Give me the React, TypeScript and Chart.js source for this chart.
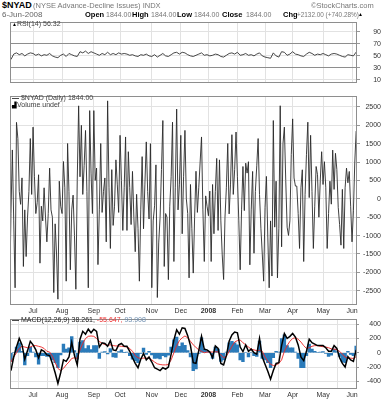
import React, { useEffect, useRef } from "react";
import { Chart, registerables } from "chart.js";
Chart.register(...registerables);

const FONT = "'Liberation Sans', Arial, sans-serif";

// trading-day index of the first session of each month (day 0 = 7-Jun-2007)
const monthTickIdx = [17, 38, 61, 80, 103, 124, 144, 165, 185, 205, 227, 248];
const monthLabels = ["Jul", "Aug", "Sep", "Oct", "Nov", "Dec", "2008", "Feb", "Mar", "Apr", "May", "Jun"];

const mainTicks = [-2500, -2000, -1500, -1000, -500, 0, 500, 1000, 1500, 2000, 2500];
const rsiTicks = [10, 30, 50, 70, 90];
const macdTicks = [-400, -200, 0, 200, 400];

// $NYAD daily values (one per trading day)
const nyadValues = [
  -2750, -400, 1330, -600, -2420, 2080, 1640, 200, -150, 570,
  -1840, -300, -1570, -500, 200, 1640, 120, 1950, 600, -400,
  -100, 655, -1750, -200, -600, 300, -500, -1170, -400, 835,
  -300, -500, -2550, -680, -1500, -2730, 480, -200, -400, 1015,
  300, -2240, 1505, 200, -1930, -300, 100, -1000, -2460, 500,
  2530, 600, 2000, 120, 900, 1860, 200, -2420, 2400, 700,
  -400, 2400, 500, 837, -1790, -300, 1505, -370, 200, 568,
  -1170, 2665, 300, -1350, 794, -723, -200, 1060, 400, -370,
  1728, 500, -860, 300, 1683, -860, 1282, 300, -700, 746,
  -500, -1438, 123, -800, -2240, -300, 1148, -815, 400, 1549,
  200, -548, 1500, -2418, -600, -190, 924, -2684, -1200, -500,
  800, 2130, -1840, -400, -500, -2198, -200, 600, 2085, -1705,
  300, 2442, -300, 400, 1728, -950, 600, 1862, 0, -400,
  -2150, 390, -800, -2020, -500, 750, -370, 300, 1000, 1683,
  -300, -1705, 80, -200, -460, 210, -1705, 390, -950, 200,
  1100, -860, 1060, -600, -1525, -2195, -500, 300, 1505, -410,
  400, 1745, 120, 800, 1817, 600, -600, -1930, -300, 880,
  -320, 970, 700, 1010, -1795, -300, 745, -1480, 200, 900,
  1640, 120, -800, -1500, -2240, -230, 610, -1040, -2420, -600,
  -2100, 2130, -770, 480, -2150, -800, 2532, -1305, 1505, 1951,
  500, -770, -995, -600, 1200, 2175, 568, 347, 347, -400,
  -1350, 300, 790, -1705, 120, 1200, 2085, 34, 1728, 200,
  -1350, -200, 880, 657, -500, 500, 1282, 390, 1010, 300,
  -1350, -400, 480, -145, 1326, 256, 1238, 800, -232, -700,
  -1260, 257, -1350, 300, 835, 436, 745, -200, -1170, -326,
  1000, 1844,
];

// the following series are sampled every second trading day (days 1, 3, 5, ... 251)
const rsiValues = [
  44, 53, 55, 52, 54, 50, 53, 55, 54, 51,
  53, 50, 52, 51, 54, 50, 48, 47, 51, 53,
  49, 54, 52, 50, 49, 57, 55, 58, 54, 57,
  55, 53, 51, 54, 52, 56, 52, 54, 52, 55,
  53, 54, 53, 51, 52, 50, 49, 52, 51, 53,
  50, 49, 52, 48, 51, 54, 50, 49, 52, 55,
  56, 53, 56, 55, 52, 50, 49, 51, 53, 55,
  51, 52, 50, 51, 53, 52, 49, 48, 51, 54,
  55, 53, 56, 51, 52, 54, 51, 52, 50, 53,
  55, 50, 48, 47, 46, 55, 50, 48, 57, 56,
  51, 53, 57, 53, 52, 50, 49, 53, 56, 54,
  51, 53, 52, 54, 52, 50, 53, 54, 53, 51,
  49, 48, 52, 51, 50, 56.32,
];

const macdValues = [
  -250, -60, 80, 200, 110, -90, 30, 160, 110, 40,
  -70, 40, 20, -30, -40, -150, -280, -430, -280, -100,
  -120, -60, 145, -40, -170, 190, 300, 260, 330, 280,
  330, 300, 80, 140, 130, 90, 170, 40, 30, 110,
  130, 90, 90, 20, -70, -150, -210, -90, -10, -100,
  -60, -130, -210, -230, -250, -210, -230, -200, -20, 180,
  320, 260, 350, 340, 240, 100, -140, -150, 30, 230,
  50, 40, 10, -70, 95, 60, -150, -170, -40, 160,
  250, 290, 280, 80, 15, 110, 20, 50, 0, -20,
  200, -60, -160, -260, -370, -250, -150, -140, 100, 270,
  200, 230, 270, 220, 110, -60, -110, 20, 190, 140,
  120, 100, 100, 100, 70, 20, 20, 100, 60, -70,
  -150, -200, -55, -100, -120, 38.261,
];

const signalValues = [
  -130, -60, 0, 60, 90, 80, 70, 80, 100, 100,
  90, 80, 60, 20, 10, -50, -140, -220, -250, -220,
  -170, -130, -80, -70, -80, 40, 130, 200, 230, 235,
  230, 200, 160, 130, 115, 105, 110, 100, 95, 95,
  90, 85, 80, 60, 20, -40, -70, -80, -75, -75,
  -80, -100, -130, -155, -165, -170, -170, -165, -100, 0,
  100, 170, 210, 235, 210, 160, 110, 75, 40, 20,
  0, 10, 10, 10, 15, 10, -30, -70, -50, 20,
  90, 150, 170, 180, 140, 110, 80, 50, 40, 30,
  35, 20, -60, -120, -160, -180, -170, -150, -100, 20,
  100, 160, 200, 210, 190, 150, 100, 60, 70, 90,
  100, 100, 90, 85, 80, 70, 55, 50, 45, 20,
  -20, -60, -75, -75, -80, -55.647,
];

const histValues = [
  -120, 0, 80, 140, 20, -170, -40, 80, 10, -60,
  -160, -40, -40, -50, -50, -100, -140, -210, -30, 120,
  50, 70, 225, 30, -90, 150, 170, 60, 100, 45,
  100, 100, -80, 10, 15, -15, 60, -60, -65, 15,
  40, 5, 10, -40, -90, -110, -140, -10, 65, -25,
  20, -30, -80, -75, -85, -40, -60, -35, 80, 180,
  220, 90, 140, 105, 30, -60, -250, -225, -10, 210,
  50, 30, 0, -80, 80, 50, -120, -100, 10, 140,
  160, 140, 110, -100, -125, 0, -60, 0, -40, -50,
  165, -80, -100, -140, -210, -70, 20, 10, 200, 250,
  100, 70, 70, 10, -80, -210, -210, -40, 120, 50,
  20, 0, 10, 15, -10, -50, -35, 50, 15, -50,
  -130, -140, 20, -25, -40, 93.908,
];

const daily = (vals: number[]) => vals.map((v, i) => ({ x: i, y: v }));
const everyOther = (vals: number[]) => vals.map((v, i) => ({ x: i * 2 + 1, y: v }));

const framePlugin = {
  id: "frame",
  afterDraw(chart: any) {
    const { ctx, chartArea: a } = chart;
    ctx.save();
    ctx.strokeStyle = "#8e8e8e";
    ctx.lineWidth = 1;
    const l = Math.round(a.left) + 0.5;
    const t = Math.round(a.top) + 0.5;
    const r = Math.round(a.right) - 0.5;
    const b = Math.round(a.bottom) - 0.5;
    ctx.strokeRect(l, t, r - l, b - t);
    ctx.restore();
  },
};

function xScale(showLabels: boolean) {
  return {
    type: "linear",
    min: 0.3,
    max: 251.6,
    offset: false,
    afterBuildTicks: (s: any) => {
      s.ticks = monthTickIdx.map((v) => ({ value: v }));
    },
    afterFit: (s: any) => {
      s.height = showLabels ? 11 : 0;
    },
    grid: { color: "#e2e2e2", drawTicks: false, lineWidth: 1 },
    border: { display: false },
    ticks: {
      display: showLabels,
      padding: 2,
      maxRotation: 0,
      autoSkip: false,
      color: "#333",
      font: (c: any) => ({
        family: FONT,
        size: 7,
        weight: c.tick && c.tick.value === 144 ? "bold" : "normal",
      }),
      callback: (_v: any, i: number) => monthLabels[i],
    },
  };
}

function yScale(min: number, max: number, ticks: number[], width: number, tickLen: number, gridColor: any) {
  return {
    position: "right",
    min,
    max,
    afterBuildTicks: (s: any) => {
      s.ticks = ticks.map((v) => ({ value: v }));
    },
    afterFit: (s: any) => {
      s.width = width;
    },
    grid: { color: gridColor, tickLength: tickLen, tickColor: "#999", drawTicks: true },
    border: { display: false },
    ticks: {
      padding: 0,
      crossAlign: "far",
      color: "#333",
      font: { family: FONT, size: 7 },
      callback: (v: any) => String(v),
    },
  };
}

const baseOptions = (padRight: number) => ({
  responsive: false,
  animation: false,
  devicePixelRatio: 1,
  events: [],
  layout: { padding: { left: 10, right: padRight, top: 0, bottom: 0 }, autoPadding: false },
  plugins: { legend: { display: false }, tooltip: { enabled: false } },
});

export default function App() {
  const rsiRef = useRef<HTMLCanvasElement>(null);
  const mainRef = useRef<HTMLCanvasElement>(null);
  const macdRef = useRef<HTMLCanvasElement>(null);

  useEffect(() => {
    const charts: Chart[] = [];
    if (rsiRef.current) {
      charts.push(
        new Chart(rsiRef.current, {
          type: "line",
          data: {
            datasets: [
              {
                data: everyOther(rsiValues),
                borderColor: "#333",
                borderWidth: 0.9,
                pointRadius: 0,
                tension: 0,
              },
            ],
          },
          options: {
            ...baseOptions(388 - 357 - 24),
            scales: {
              x: xScale(false),
              y: yScale(5, 106.3, rsiTicks, 24, 3, (c: any) =>
                c.tick && (c.tick.value === 30 || c.tick.value === 70) ? "#8e8e8e" : "#e2e2e2"
              ),
            },
          } as any,
          plugins: [framePlugin],
        })
      );
    }
    if (mainRef.current) {
      charts.push(
        new Chart(mainRef.current, {
          type: "line",
          data: {
            datasets: [
              {
                data: daily(nyadValues),
                borderColor: "#2a2a2a",
                borderWidth: 0.9,
                pointRadius: 0,
                tension: 0,
              },
            ],
          },
          options: {
            ...baseOptions(388 - 357 - 24),
            scales: {
              x: xScale(true),
              y: yScale(-2888, 2792, mainTicks, 24, 3, "#e2e2e2"),
            },
          } as any,
          plugins: [framePlugin],
        })
      );
    }
    if (macdRef.current) {
      charts.push(
        new Chart(macdRef.current, {
          type: "bar",
          data: {
            datasets: [
              {
                type: "line",
                data: everyOther(macdValues),
                borderColor: "#000",
                borderWidth: 1.5,
                pointRadius: 0,
                tension: 0,
                order: 0,
              },
              {
                type: "line",
                data: everyOther(signalValues),
                borderColor: "#ee2222",
                borderWidth: 0.9,
                pointRadius: 0,
                tension: 0,
                order: 1,
              },
              {
                type: "bar",
                data: everyOther(histValues),
                backgroundColor: "#2b7bba",
                borderWidth: 0,
                barPercentage: 1,
                categoryPercentage: 1,
                order: 2,
              },
            ],
          } as any,
          options: {
            ...baseOptions(388 - 357 - 24),
            scales: {
              x: xScale(true),
              y: yScale(-508, 470, macdTicks, 24, 2, "#e2e2e2"),
            },
          } as any,
          plugins: [framePlugin],
        })
      );
    }
    return () => charts.forEach((c) => c.destroy());
  }, []);

  const T = (props: { x: number; y: number; size?: number; color?: string; bold?: boolean; children: any }) => (
    <span
      style={{
        position: "absolute",
        left: props.x,
        top: props.y,
        fontSize: props.size ?? 7.5,
        lineHeight: 1,
        color: props.color ?? "#555",
        fontWeight: props.bold ? "bold" : "normal",
        whiteSpace: "nowrap",
        fontFamily: FONT,
        zIndex: 2,
      }}
    >
      {props.children}
    </span>
  );

  return (
    <div
      style={{
        position: "absolute",
        left: 0,
        top: 0,
        width: 388,
        height: 400,
        background: "#fff",
        overflow: "hidden",
      }}
    >
      <canvas ref={rsiRef} width={388} height={69} style={{ position: "absolute", left: 0, top: 18 }} />
      <canvas ref={mainRef} width={388} height={224} style={{ position: "absolute", left: 0, top: 92 }} />
      <canvas ref={macdRef} width={388} height={85} style={{ position: "absolute", left: 0, top: 315 }} />

      <T x={2} y={1} size={9} color="#000" bold>
        $NYAD
      </T>
      <T x={33} y={2} size={7.5} color="#777">
        (NYSE Advance-Decline Issues) INDX
      </T>
      <T x={311} y={2} size={7.5} color="#777">
        ©StockCharts.com
      </T>

      <T x={2} y={11} size={8} color="#666">
        6-Jun-2008
      </T>
      <T x={85} y={11} size={7.5} color="#000" bold>Open</T>
      <T x={106} y={11} size={7} color="#777">1844.00</T>
      <T x={132} y={11} size={7.5} color="#000" bold>High</T>
      <T x={151} y={11} size={7} color="#777">1844.00</T>
      <T x={177} y={11} size={7.5} color="#000" bold>Low</T>
      <T x={194} y={11} size={7} color="#777">1844.00</T>
      <T x={222} y={11} size={7.5} color="#000" bold>Close</T>
      <T x={246} y={11} size={7} color="#777">1844.00</T>
      <T x={283} y={11} size={7.5} color="#000" bold>Chg</T>
      <T x={297} y={11.5} size={6.4} color="#777">+2132.00 (+740.28%)</T>
      <T x={358} y={12} size={5} color="#000">▲</T>

      <T x={12} y={20} size={7} color="#444">
        <span style={{ fontSize: 5, color: "#000" }}>▲</span>RSI(14) 56.32
      </T>

      <T x={12} y={94} size={7} color="#444">
        <span style={{ color: "#000", fontWeight: "bold" }}>—</span> $NYAD (Daily) 1844.00
      </T>
      <T x={12} y={101} size={7} color="#444">
        <span style={{ fontSize: 6, color: "#000" }}>▟</span>Volume undef
      </T>

      <T x={12} y={316} size={7} color="#222">
        <span style={{ color: "#000", fontWeight: "bold" }}>—</span> MACD(12,26,9) 38.261,{" "}
        <span style={{ color: "#ee3333" }}>-55.647,</span> <span style={{ color: "#6f8fb0" }}>93.908</span>
      </T>
    </div>
  );
}
